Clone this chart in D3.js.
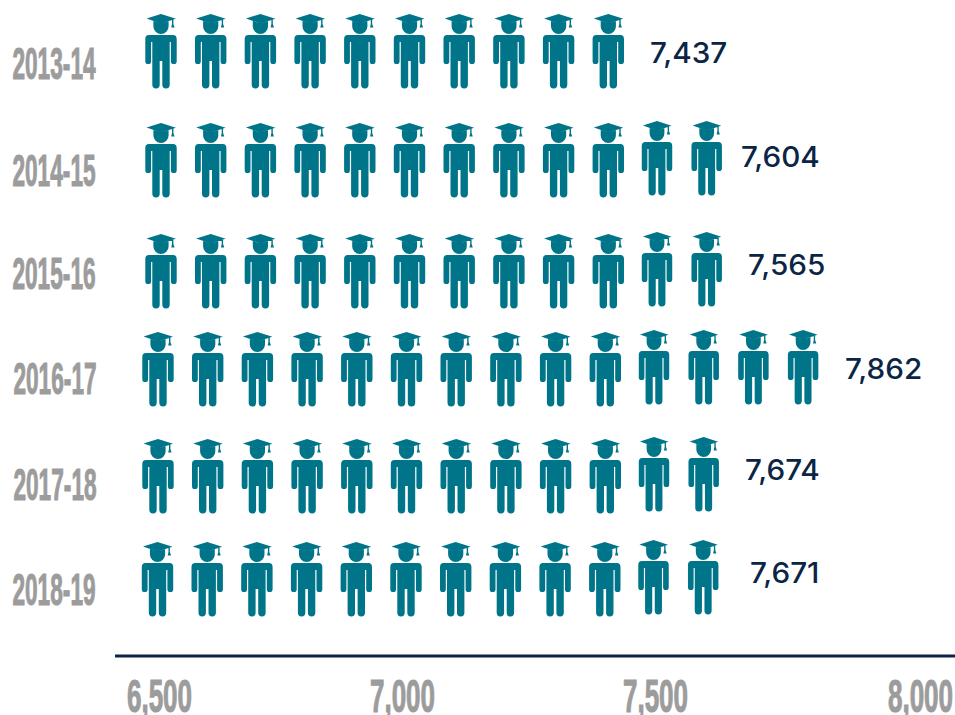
<!DOCTYPE html>
<html>
<head>
<meta charset="utf-8">
<script src="https://cdn.jsdelivr.net/npm/d3@7"></script>
<style>
  html, body { margin: 0; padding: 0; background: #fff; }
  svg { display: block; }
</style>
</head>
<body>
<svg id="chart"></svg>
<script>
var years = ["2013-14", "2014-15", "2015-16", "2016-17", "2017-18", "2018-19"];
var values = [7437, 7604, 7565, 7862, 7674, 7671];
var iconCounts = [10, 12, 12, 14, 12, 12];
var axisTicks = [6500, 7000, 7500, 8000];

// layout of the rows, they are not quite even in the original
var rowTop = [14, 123, 234, 332, 439, 542];
var rowShift = [0, 0, 0, -3, -3, -3.5];
var yearMid = [63, 170, 273, 378, 484, 589];
var yearCentre = [54, 54, 54, 55, 55, 54];
var valueMid = [53, 157, 265, 369, 470, 573];
var valueLeft = [650, 741, 748, 845, 745, 750];

var width = 955;
var height = 715;
var teal = "#00758a";
var navy = "#0b2545";
var grey = "#9c9c9c";

var svg = d3.select("#chart")
    .attr("width", width)
    .attr("height", height);

var xAxisScale = d3.scaleLinear()
    .domain(axisTicks)
    .range([159, 402, 655, 920]);

var iconX = d3.scaleLinear()
    .domain([0, 13])
    .range([161, 161 + 13 * 49.7]);

// person with the cap, centred on x=0 with the top of the cap on y=0
var iconPath = "M-14.5,4.4 L0,0 L15,4.8 L0,9.6 Z"
    + "M-7.6,7 L0,9.6 L7.6,7.2 V12.5 A7.6,7.6 0 0 1 -7.6,12.5 Z"
    + "M11,5.4 L12.4,5 V10 L13.6,13.6 H10.2 L11,10 Z"
    + "M-12,21 H12 Q15.7,21 15.7,25 V47.2 A2.9,2.9 0 0 1 9.9,47.2 V28 H8.7 V70.8 A3.7,3.7 0 0 1 1.3,70.8 V47 H-1.3 V70.8"
    + " A3.7,3.7 0 0 1 -8.7,70.8 V28 H-9.9 V47.2 A2.9,2.9 0 0 1 -15.7,47.2 V25 Q-15.7,21 -12,21 Z";

var rows = svg.selectAll(".row")
    .data(iconCounts)
    .join("g")
    .attr("class", "row")
    .attr("transform", (d, i) => `translate(${rowShift[i]},${rowTop[i]})`);

rows.selectAll(".person")
    .data(d => d3.range(d))
    .join("path")
    .attr("class", "person")
    .attr("d", iconPath)
    .attr("fill", teal)
    .attr("transform", n => {
        var x = iconX(n);
        // the last icons sit a bit higher and are a bit smaller
        return n >= 10 ? `translate(${x - 1},-2) scale(0.97,1)` : `translate(${x},0)`;
    });

svg.selectAll(".year")
    .data(years)
    .join("text")
    .attr("class", "year")
    .attr("text-anchor", "middle")
    .attr("dominant-baseline", "central")
    .attr("transform", (d, i) => `translate(${yearCentre[i]},${yearMid[i]}) scale(0.54,1.05)`)
    .attr("font-family", "Liberation Sans")
    .attr("font-weight", 700)
    .attr("font-size", 42)
    .attr("fill", grey)
    .attr("stroke", grey)
    .attr("stroke-width", 1)
    .text(d => d);

svg.selectAll(".value")
    .data(values)
    .join("text")
    .attr("class", "value")
    .attr("transform", (d, i) => `translate(${valueLeft[i]},${valueMid[i]}) scale(1.06,1)`)
    .attr("dominant-baseline", "central")
    .attr("font-family", "Inter")
    .attr("font-weight", 500)
    .attr("font-size", 28)
    .attr("fill", navy)
    .text(d => d3.format(",")(d));

var axis = svg.append("g")
    .attr("transform", "translate(0,678)")
    .call(d3.axisBottom(xAxisScale).tickValues(axisTicks).tickSize(0).tickFormat(d3.format(",")));

axis.select(".domain").remove();

axis.selectAll("text")
    .attr("font-family", "Liberation Sans")
    .attr("font-weight", 700)
    .attr("font-size", 42)
    .attr("fill", grey)
    .attr("stroke", grey)
    .attr("stroke-width", 1)
    .attr("y", 0)
    .attr("dy", null)
    .attr("dominant-baseline", "central")
    .attr("transform", "translate(0,19) scale(0.62,1.08)");

svg.append("line")
    .attr("x1", 115)
    .attr("x2", 955)
    .attr("y1", 656)
    .attr("y2", 656)
    .attr("stroke", navy)
    .attr("stroke-width", 3);
</script>
</body>
</html>
